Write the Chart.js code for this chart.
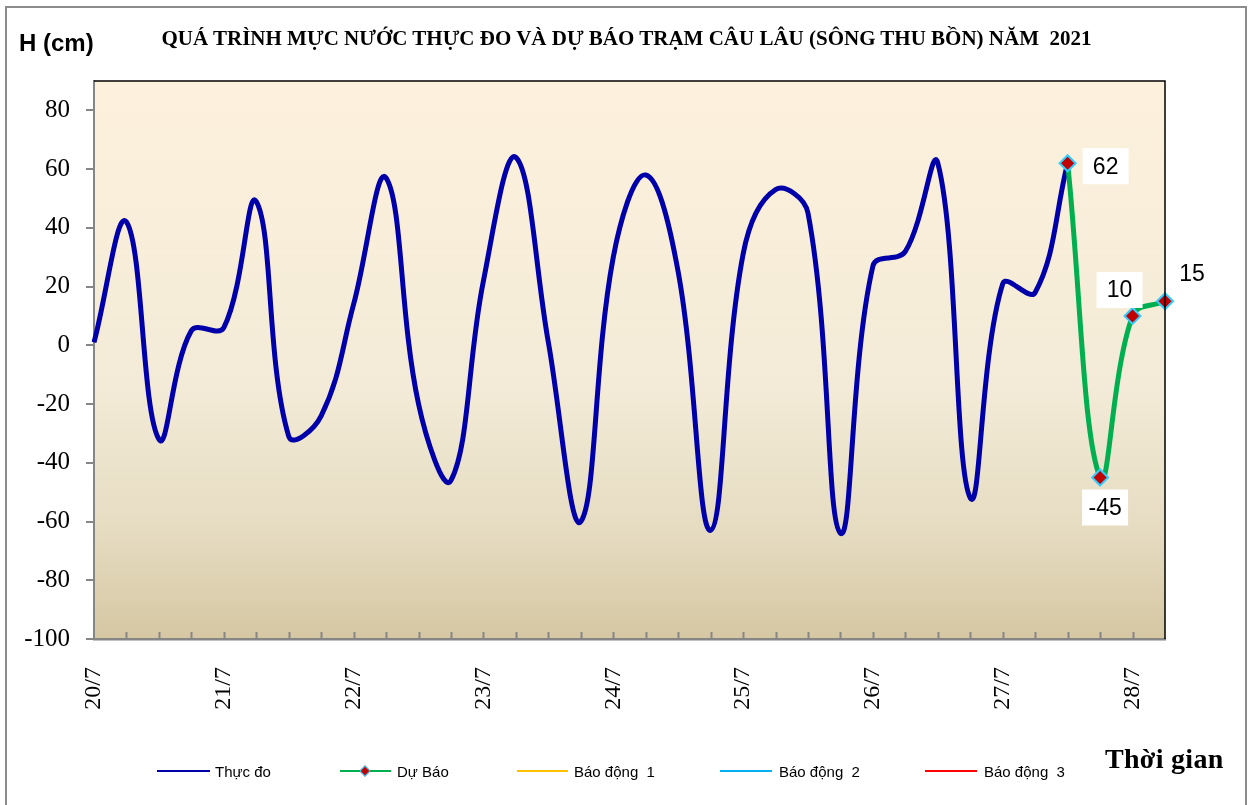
<!DOCTYPE html>
<html lang="vi">
<head>
<meta charset="utf-8">
<title>Mực nước Câu Lâu 2021</title>
<script src="https://cdn.jsdelivr.net/npm/chart.js@4.4.1/dist/chart.umd.min.js"></script>
<style>
  html, body { margin: 0; padding: 0; background: #fff; overflow: hidden; }
  #wrap { position: relative; width: 1253px; height: 805px; }
  #frame { position: absolute; left: 5px; top: 6px; width: 1242px; height: 820px; border: 2px solid #8c8c8c; box-sizing: border-box; pointer-events: none; }
  #chartBox { position: absolute; left: 0; top: 0; width: 1253px; height: 805px; }
  .txt { position: absolute; white-space: nowrap; color: #000; }
  #title { left: 0; width: 1253px; top: 26px; text-align: center; font: bold 21px "Liberation Serif", serif; letter-spacing: 0; }
  #ylab { left: 19px; top: 29px; font: bold 24px "Liberation Sans", Arial, sans-serif; }
  #xlab { left: 1105px; top: 743px; font: bold 28px "Liberation Serif", serif; letter-spacing: 0.3px; }
  .leg { position: absolute; top: 762px; height: 20px; font: 15px "Liberation Sans", Arial, sans-serif; }
  .leg .line { position: absolute; top: 8px; height: 2px; }
  .leg .dia { position: absolute; width: 6px; height: 6px; top: 5px; background: #c00000; border: 1.5px solid #33ccff; transform: rotate(45deg); }
  .leg .lab { position: absolute; top: 1px; white-space: nowrap; }
</style>
</head>
<body>
<div id="wrap">
  <div id="chartBox"><canvas id="mucNuocChart"></canvas></div>
  <div id="frame"></div>
  <div class="txt" id="title">QUÁ TRÌNH MỰC NƯỚC THỰC ĐO VÀ DỰ BÁO TRẠM CÂU LÂU (SÔNG THU BỒN) NĂM&nbsp; 2021</div>
  <div class="txt" id="ylab">H (cm)</div>
  <div class="txt" id="xlab">Thời gian</div>
  <div id="legend"></div>
</div>
<script>
// moc thoi gian: 4 lan do / ngay (6 gio mot lan), ngay 20/7 -> 28/7
const days = ["20/7", "21/7", "22/7", "23/7", "24/7", "25/7", "26/7", "27/7", "28/7"];
const stepsPerDay = 4;
const totalSteps = 34;

// muc nuoc thuc do (cm)
const thucDo = [
  1, 42, -32, 5, 6, 49, -31, -24,
  14, 57, -20, -46, 22, 64, 1, -60,
  30, 58, 25, -63, 31, 53, 45, -64,
  27, 32, 62, -52, 21, 18, 62
];

// du bao (bat dau tu diem do cuoi)
const duBaoStart = 30;
const duBao = [62, -45, 10, 15];

// bao dong: nam ngoai khoang truc, chi co trong chu giai
const baoDong1 = [];
const baoDong2 = [];
const baoDong3 = [];

const yTicks = [-100, -80, -60, -40, -20, 0, 20, 40, 60, 80];
const yMin = -100;
const yMax = 90;

// vi tri nhan so lieu du bao (px so voi diem)
const labelOffsets = [[38, 3], [5, 30], [-13, -26], [27, -28]];
const labelBoxed = [true, true, true, false];

const labels = [];
for (let i = 0; i < totalSteps; i++) {
  labels.push(i % stepsPerDay === 0 ? days[i / stepsPerDay] : "");
}

function padSeries(values, start) {
  const out = new Array(totalSteps).fill(null);
  values.forEach((v, i) => { out[start + i] = v; });
  return out;
}

const legendItems = [
  { name: "Thực đo", color: "#0000a8", x: 157, w: 53, tx: 215 },
  { name: "Dự Báo", color: "#00b050", x: 340, w: 51, tx: 397, marker: true },
  { name: "Báo động  1", color: "#ffc000", x: 517, w: 51, tx: 574 },
  { name: "Báo động  2", color: "#00b0f0", x: 720, w: 52, tx: 779 },
  { name: "Báo động  3", color: "#ff0000", x: 925, w: 52, tx: 984 }
];

const legendEl = document.getElementById("legend");
legendItems.forEach((item) => {
  const el = document.createElement("div");
  el.className = "leg";
  el.style.left = "0px";
  el.innerHTML =
    `<div class="line" style="left:${item.x}px;width:${item.w}px;background:${item.color}"></div>` +
    (item.marker ? `<div class="dia" style="left:${item.x + item.w / 2 - 4.5}px"></div>` : "") +
    `<div class="lab" style="left:${item.tx}px">${item.name.replace(/  /g, "&nbsp; ")}</div>`;
  legendEl.appendChild(el);
});

const plotDecor = {
  id: "plotDecor",
  beforeDraw(chart) {
    const { ctx, chartArea: a } = chart;
    const g = ctx.createLinearGradient(0, a.top, 0, a.bottom);
    g.addColorStop(0, "#fdf1dd");
    g.addColorStop(0.55, "#f3ebd7");
    g.addColorStop(0.8, "#e6dcc2");
    g.addColorStop(1, "#d5c7a2");
    ctx.save();
    ctx.fillStyle = g;
    ctx.fillRect(a.left, a.top, a.right - a.left, a.bottom - a.top);
    ctx.restore();
  },
  afterDraw(chart) {
    const { ctx, chartArea: a } = chart;
    const xs = chart.scales.x;
    ctx.save();
    // vach chia huong vao trong
    ctx.strokeStyle = "#868686";
    ctx.lineWidth = 2;
    for (let i = 1; i < totalSteps - 1; i++) {
      const x = Math.round(xs.getPixelForValue(i)) + 0.5;
      ctx.beginPath();
      ctx.moveTo(x, a.bottom - 7);
      ctx.lineTo(x, a.bottom);
      ctx.stroke();
    }
    // khung tren va phai
    ctx.strokeStyle = "#000";
    ctx.lineWidth = 1.5;
    ctx.beginPath();
    ctx.moveTo(a.left, a.top);
    ctx.lineTo(a.right, a.top);
    ctx.lineTo(a.right, a.bottom);
    ctx.stroke();
    ctx.restore();
  },
  afterDatasetsDraw(chart) {
    const { ctx } = chart;
    const meta = chart.getDatasetMeta(0);
    ctx.save();
    ctx.font = '23px "Liberation Sans", Arial, sans-serif';
    ctx.textAlign = "center";
    ctx.textBaseline = "middle";
    duBao.forEach((v, i) => {
      const pt = meta.data[duBaoStart + i];
      const cx = pt.x + labelOffsets[i][0];
      const cy = pt.y + labelOffsets[i][1];
      const text = String(v);
      if (labelBoxed[i]) {
        ctx.fillStyle = "#fff";
        ctx.fillRect(cx - 23, cy - 18, 46, 36);
      }
      ctx.fillStyle = "#000";
      ctx.fillText(text, cx, cy + 1);
    });
    ctx.restore();
  }
};

new Chart(document.getElementById("mucNuocChart"), {
  type: "line",
  data: {
    labels: labels,
    datasets: [
      {
        label: "Dự Báo",
        data: padSeries(duBao, duBaoStart),
        borderColor: "#00b050",
        borderWidth: 5,
        tension: 0.4,
        pointStyle: "rectRot",
        pointRadius: 8,
        pointBackgroundColor: "#c00000",
        pointBorderColor: "#33ccff",
        pointBorderWidth: 2,
        clip: false,
        order: 0
      },
      {
        label: "Thực đo",
        data: padSeries(thucDo, 0),
        borderColor: "#0000aa",
        borderWidth: 5,
        tension: 0.4,
        pointRadius: 0,
        order: 1
      },
      { label: "Báo động 1", data: padSeries(baoDong1, 0), borderColor: "#ffc000", pointRadius: 0 },
      { label: "Báo động 2", data: padSeries(baoDong2, 0), borderColor: "#00b0f0", pointRadius: 0 },
      { label: "Báo động 3", data: padSeries(baoDong3, 0), borderColor: "#ff0000", pointRadius: 0 }
    ]
  },
  options: {
    responsive: true,
    maintainAspectRatio: false,
    animation: false,
    events: [],
    layout: { padding: { left: 0, top: 81, right: 88, bottom: 96 } },
    plugins: {
      legend: { display: false },
      tooltip: { enabled: false },
      title: { display: false }
    },
    scales: {
      x: {
        type: "category",
        offset: false,
        grid: { display: false, drawTicks: false },
        border: { display: true, color: "#868686", width: 2.5 },
        ticks: {
          autoSkip: false,
          maxRotation: 90,
          minRotation: 90,
          padding: 28,
          color: "#000",
          font: { family: '"Liberation Serif", serif', size: 24 }
        },
        afterFit: (scale) => { scale.height = 70; }
      },
      y: {
        min: yMin,
        max: yMax,
        grid: { display: true, drawOnChartArea: false, drawTicks: true, tickLength: 8, color: "#868686", lineWidth: 2 },
        border: { display: true, color: "#868686", width: 2 },
        ticks: {
          stepSize: 20,
          padding: 16,
          color: "#000",
          font: { family: '"Liberation Serif", serif', size: 25 }
        },
        afterBuildTicks: (scale) => {
          scale.ticks = yTicks.map((v) => ({ value: v }));
        },
        afterFit: (scale) => { scale.width = 94; }
      }
    }
  },
  plugins: [plotDecor]
});
</script>
</body>
</html>
